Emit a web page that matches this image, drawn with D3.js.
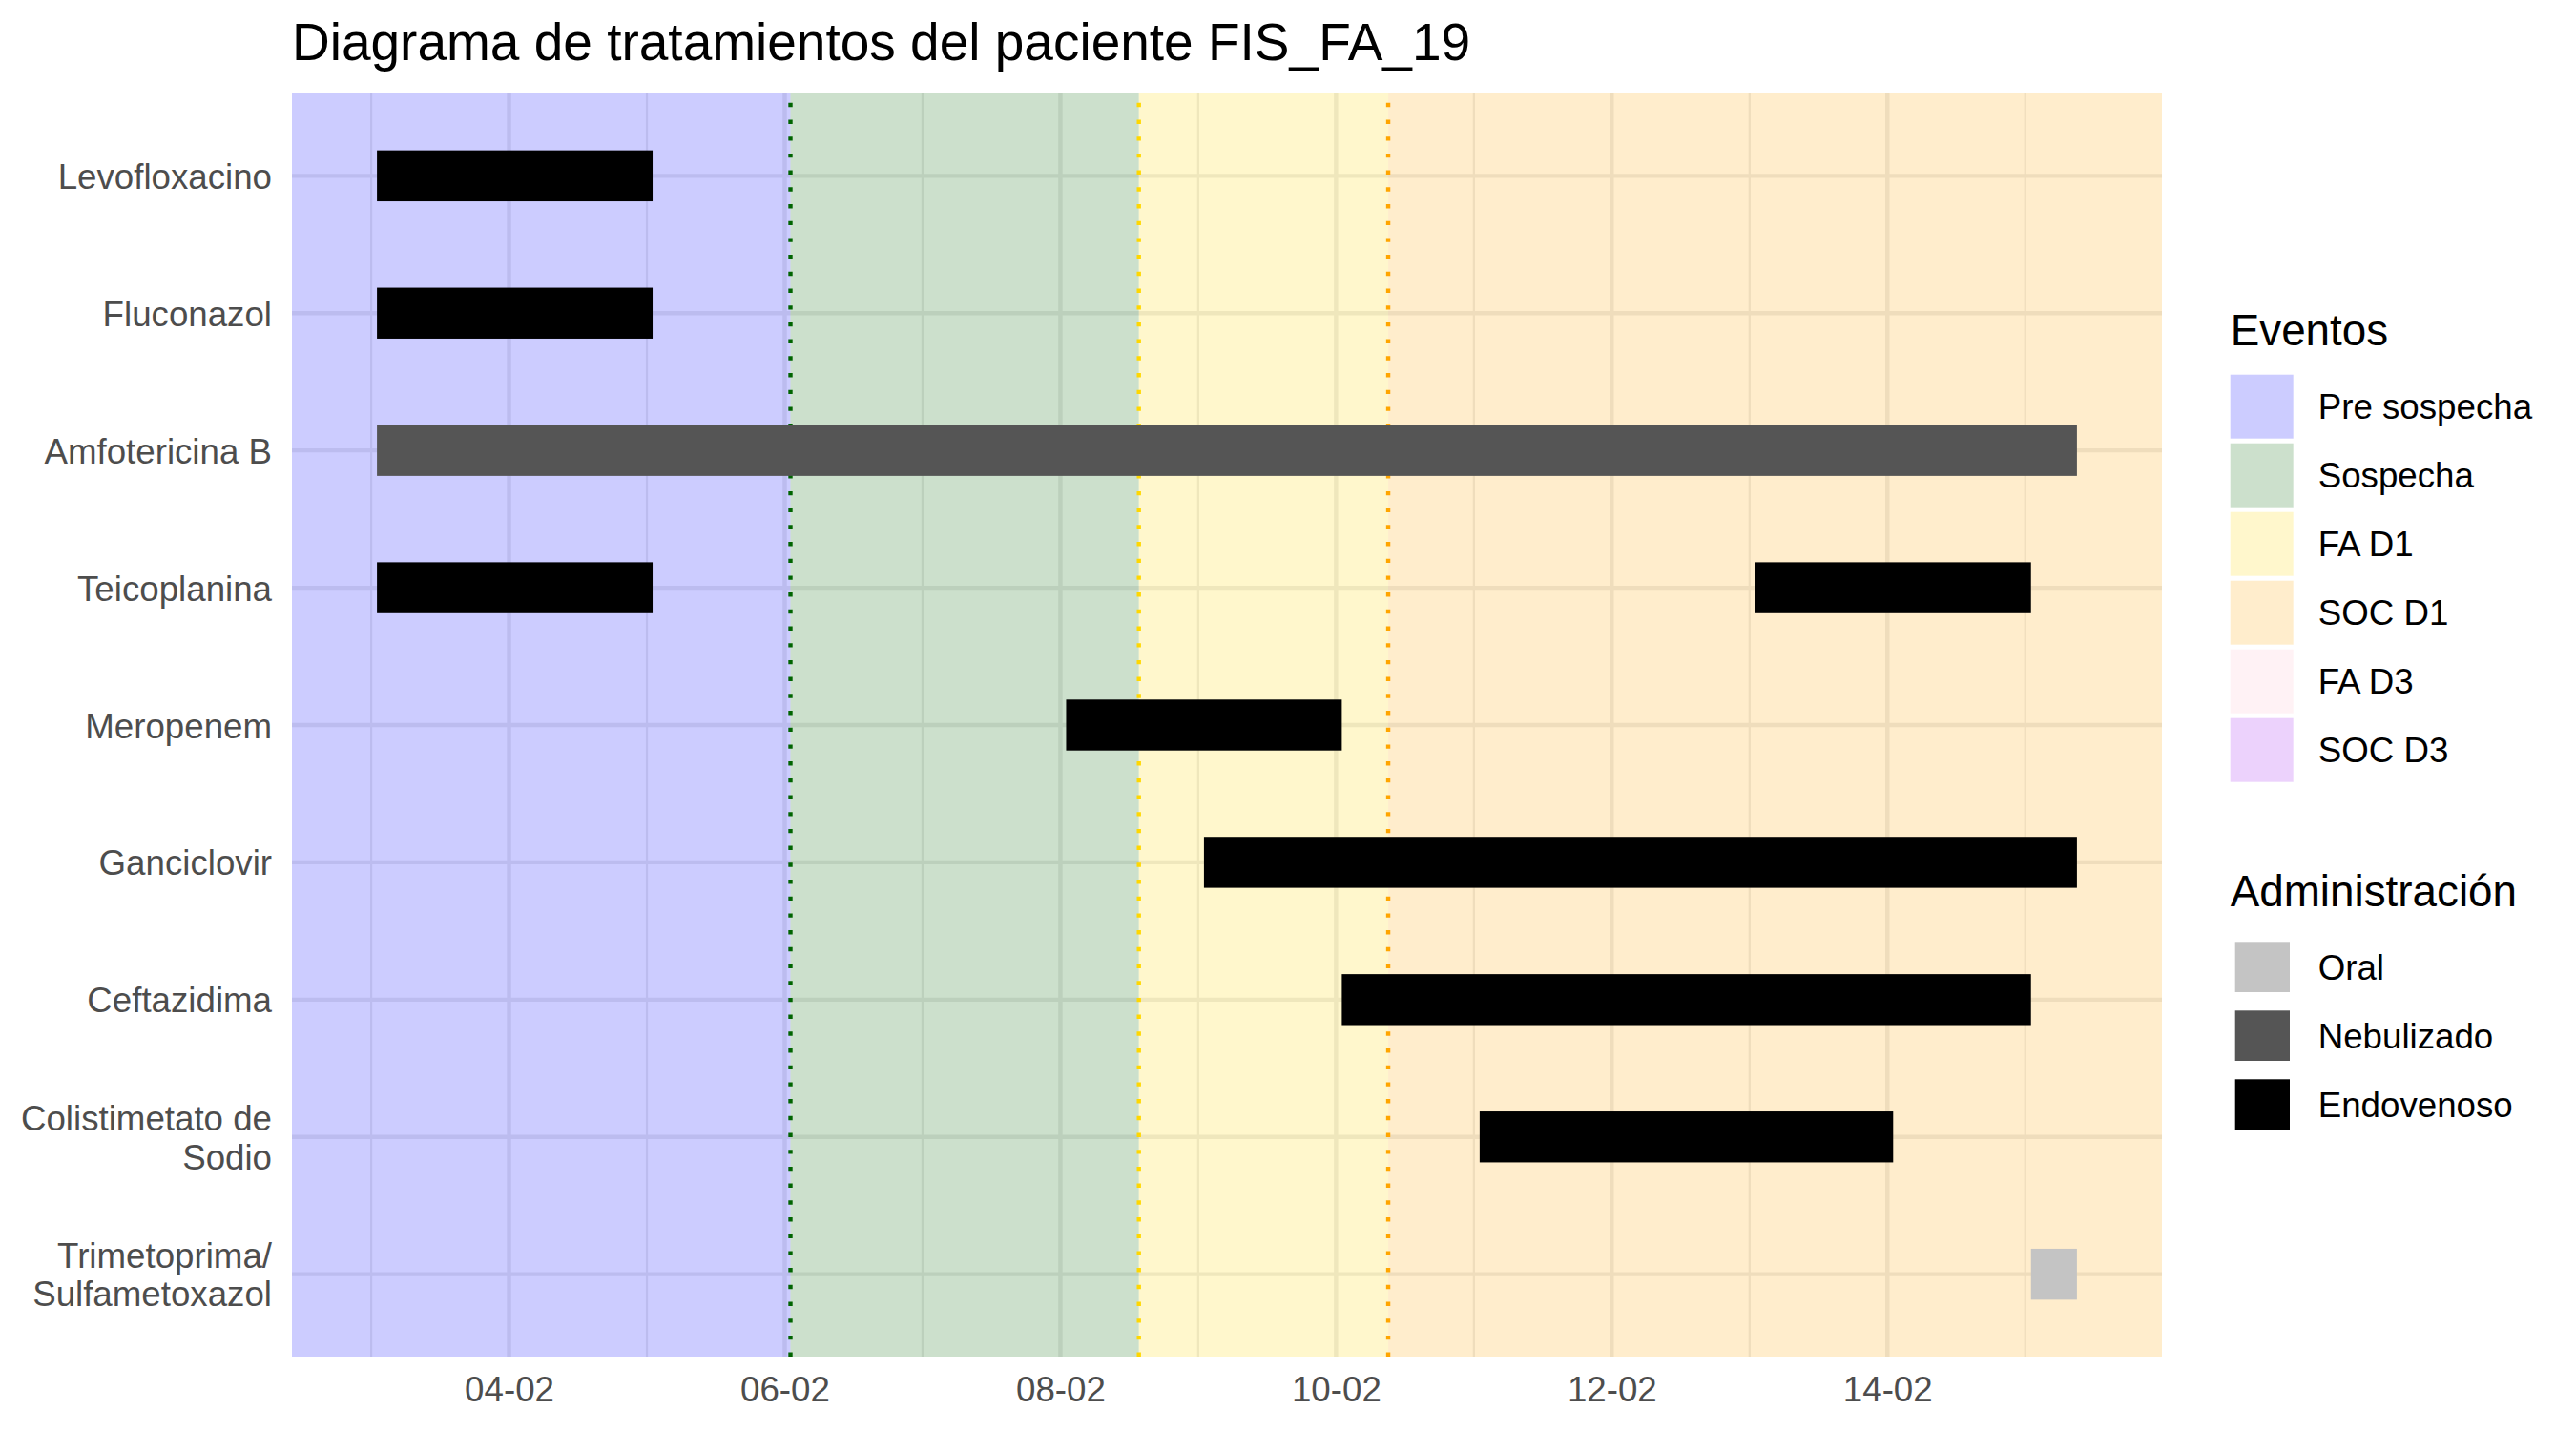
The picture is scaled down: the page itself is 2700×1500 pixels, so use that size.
<!DOCTYPE html>
<html>
<head>
<meta charset="utf-8">
<script src="https://cdn.jsdelivr.net/npm/d3@7"></script>
<style>
  body { margin: 0; background: white; }
  svg { font-family: "Liberation Sans", Arial, sans-serif; }
</style>
</head>
<body>
<svg id="chart"></svg>
<script>
// filas del diagrama (de arriba a abajo)
const drugs = ["Levofloxacino", "Fluconazol", "Amfotericina B", "Teicoplanina", "Meropenem",
    "Ganciclovir", "Ceftazidima", "Colistimetato de Sodio", "Trimetoprima/Sulfametoxazol"];
const drugLabels = [["Levofloxacino"], ["Fluconazol"], ["Amfotericina B"], ["Teicoplanina"], ["Meropenem"],
    ["Ganciclovir"], ["Ceftazidima"], ["Colistimetato de", "Sodio"], ["Trimetoprima/", "Sulfametoxazol"]];

// tramos de tratamiento
const segDrug  = ["Levofloxacino", "Fluconazol", "Amfotericina B", "Teicoplanina", "Teicoplanina",
    "Meropenem", "Ganciclovir", "Ceftazidima", "Colistimetato de Sodio", "Trimetoprima/Sulfametoxazol"];
const segStart = ["2024-02-03 01:00", "2024-02-03 01:00", "2024-02-03 01:00", "2024-02-03 01:00", "2024-02-13 01:00",
    "2024-02-08 01:00", "2024-02-09 01:00", "2024-02-10 01:00", "2024-02-11 01:00", "2024-02-15 01:00"];
const segEnd   = ["2024-02-05 01:00", "2024-02-05 01:00", "2024-02-15 09:00", "2024-02-05 01:00", "2024-02-15 01:00",
    "2024-02-10 01:00", "2024-02-15 09:00", "2024-02-15 01:00", "2024-02-14 01:00", "2024-02-15 09:00"];
const segRoute = ["Endovenoso", "Endovenoso", "Nebulizado", "Endovenoso", "Endovenoso",
    "Endovenoso", "Endovenoso", "Endovenoso", "Endovenoso", "Oral"];

const routes = ["Oral", "Nebulizado", "Endovenoso"];
const routeColors = ["#c4c4c4", "#555555", "#000000"];

// eventos (fondo)
const eventNames  = ["Pre sospecha", "Sospecha", "FA D1", "SOC D1", "FA D3", "SOC D3"];
const eventColors = ["blue", "darkgreen", "gold", "orange", "pink", "#a020f0"];
const eventStart  = [null, "2024-02-06 01:00", "2024-02-08 13:40", "2024-02-10 09:05"];
const eventEnd    = ["2024-02-06 01:00", "2024-02-08 13:40", "2024-02-10 09:05", null];

const width = 2700, height = 1500;
const margin = { top: 98, right: 434, bottom: 78, left: 306 };
const parse = d3.timeParse("%Y-%m-%d %H:%M");

const svg = d3.select("#chart").attr("width", width).attr("height", height);

const allTimes = segStart.concat(segEnd).map(parse);
const [t0, t1] = d3.extent(allTimes);
const pad = (t1 - t0) * 0.05;

const x = d3.scaleTime()
    .domain([new Date(+t0 - pad), new Date(+t1 + pad)])
    .range([margin.left, width - margin.right]);

const y = d3.scalePoint()
    .domain(drugs)
    .range([margin.top, height - margin.bottom])
    .padding(0.6);

const routeColor = d3.scaleOrdinal().domain(routes).range(routeColors);
const eventColor = d3.scaleOrdinal().domain(eventNames).range(eventColors);

const days = d3.timeDay.range(d3.timeDay.ceil(x.domain()[0]), x.domain()[1]);
const majorDays = days.filter(d => d.getDate() % 2 === 0);
const minorDays = days.filter(d => d.getDate() % 2 === 1);

// rejilla
const grid = svg.append("g").attr("class", "grid");
grid.selectAll("line.minor")
    .data(minorDays)
    .enter().append("line")
    .attr("x1", d => x(d)).attr("x2", d => x(d))
    .attr("y1", margin.top).attr("y2", height - margin.bottom)
    .style("stroke", "#ebebeb").style("stroke-width", 2.2);
grid.selectAll("line.major")
    .data(majorDays)
    .enter().append("line")
    .attr("x1", d => x(d)).attr("x2", d => x(d))
    .attr("y1", margin.top).attr("y2", height - margin.bottom)
    .style("stroke", "#ebebeb").style("stroke-width", 4.4);
grid.selectAll("line.h")
    .data(drugs)
    .enter().append("line")
    .attr("x1", margin.left).attr("x2", width - margin.right)
    .attr("y1", d => y(d)).attr("y2", d => y(d))
    .style("stroke", "#ebebeb").style("stroke-width", 4.4);

// fondos de eventos
const evIdx = d3.range(eventStart.length);
svg.append("g")
    .selectAll("rect")
    .data(evIdx)
    .enter().append("rect")
    .attr("x", i => eventStart[i] ? x(parse(eventStart[i])) : margin.left)
    .attr("width", i => (eventEnd[i] ? x(parse(eventEnd[i])) : width - margin.right)
        - (eventStart[i] ? x(parse(eventStart[i])) : margin.left))
    .attr("y", margin.top)
    .attr("height", height - margin.top - margin.bottom)
    .attr("fill", i => eventColor(eventNames[i]))
    .attr("fill-opacity", 0.2);

// lineas punteadas al inicio de cada evento
svg.append("g")
    .selectAll("line")
    .data(evIdx.filter(i => eventStart[i]))
    .enter().append("line")
    .attr("x1", i => x(parse(eventStart[i])))
    .attr("x2", i => x(parse(eventStart[i])))
    .attr("y1", height - margin.bottom)
    .attr("y2", margin.top)
    .style("stroke", i => eventColor(eventNames[i]))
    .style("stroke-width", 4.4)
    .style("stroke-dasharray", "4.4 13.3");

// barras de tratamiento
const barH = 53.4;
svg.append("g")
    .selectAll("rect")
    .data(d3.range(segDrug.length))
    .enter().append("rect")
    .attr("x", i => x(parse(segStart[i])))
    .attr("width", i => x(parse(segEnd[i])) - x(parse(segStart[i])))
    .attr("y", i => y(segDrug[i]) - barH / 2)
    .attr("height", barH)
    .attr("fill", i => routeColor(segRoute[i]));

// ejes
const xAxis = svg.append("g")
    .attr("transform", `translate(0, ${height - margin.bottom})`)
    .call(d3.axisBottom(x).tickValues(majorDays).tickFormat(d3.timeFormat("%d-%m")).tickSize(0).tickPadding(21));
xAxis.select(".domain").remove();
xAxis.selectAll("text")
    .style("font-size", "36.7px")
    .style("fill", "#4d4d4d")
    .style("font-family", "Liberation Sans, Arial, sans-serif");

const yAxis = svg.append("g")
    .attr("transform", `translate(${margin.left}, 0)`)
    .call(d3.axisLeft(y).tickSize(0).tickPadding(21));
yAxis.select(".domain").remove();
yAxis.selectAll("text")
    .style("font-size", "36.7px")
    .style("fill", "#4d4d4d")
    .style("font-family", "Liberation Sans, Arial, sans-serif")
    .attr("dy", null)
    .each(function (d) {
        const lines = drugLabels[drugs.indexOf(d)];
        const t = d3.select(this).text(null);
        const lh = 40.7;
        lines.forEach((ln, k) => {
            t.append("tspan")
                .attr("x", -21)
                .attr("y", (k - (lines.length - 1) / 2) * lh + 13)
                .text(ln);
        });
    });

// titulo
svg.append("text")
    .attr("x", margin.left)
    .attr("y", 63)
    .style("font-size", "55px")
    .style("fill", "black")
    .text("Diagrama de tratamientos del paciente FIS_FA_19");

// leyenda eventos
const lx = 2337.7;
svg.append("text")
    .attr("x", lx).attr("y", 362)
    .style("font-size", "45.8px")
    .text("Eventos");
const evLeg = svg.append("g").selectAll("g")
    .data(eventNames)
    .enter().append("g")
    .attr("transform", (d, i) => `translate(${lx}, ${392.7 + i * 72})`);
evLeg.append("rect")
    .attr("width", 66).attr("height", 67)
    .attr("fill", d => eventColor(d))
    .attr("fill-opacity", 0.2);
evLeg.append("text")
    .attr("x", 92).attr("y", 33.5).attr("dy", "0.35em")
    .style("font-size", "36.7px")
    .text(d => d);

// leyenda administracion
svg.append("text")
    .attr("x", lx).attr("y", 950)
    .style("font-size", "45.8px")
    .text("Administración");
const rtLeg = svg.append("g").selectAll("g")
    .data(routes)
    .enter().append("g")
    .attr("transform", (d, i) => `translate(${lx}, ${1013.7 + i * 72})`);
rtLeg.append("rect")
    .attr("x", 5).attr("y", -26.4)
    .attr("width", 57.3).attr("height", 52.7)
    .attr("fill", d => routeColor(d));
rtLeg.append("text")
    .attr("x", 92).attr("y", 0).attr("dy", "0.35em")
    .style("font-size", "36.7px")
    .text(d => d);
</script>
</body>
</html>
